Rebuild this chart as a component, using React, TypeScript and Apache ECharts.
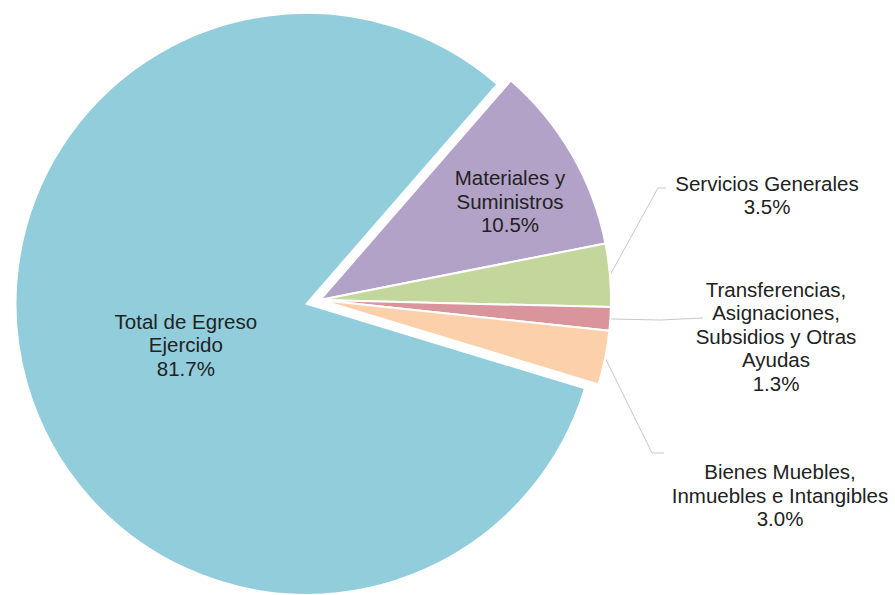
import React, { useEffect, useRef } from "react";
import * as echarts from "echarts";

// Data (clockwise order starting from the top edge of "Materiales y Suministros")
const categories = [
  "Materiales y\nSuministros",
  "Servicios Generales",
  "Transferencias,\nAsignaciones,\nSubsidios y Otras\nAyudas",
  "Bienes Muebles,\nInmuebles e Intangibles",
  "Total de Egreso\nEjercido",
];
const values = [10.5, 3.5, 1.3, 3.0, 81.7];
const colors = ["#B3A2C7", "#C3D69B", "#D9959B", "#FCD0AA", "#92CDDC"];
const selectedFlags = [false, false, false, false, true];

// Label layout (centre of each label block, and leader-line bend points)
const labelCenters: ([number, number] | null)[] = [
  [510, 201],
  [767, 195],
  [776, 336],
  [780, 495],
  null,
];
const labelBends: ([number, number][] | null)[] = [
  null,
  [[658, 188], [666, 188]],
  [[660, 320], [703, 318]],
  [[652, 453], [664, 453]],
  null,
];
// the exploded slice keeps its inner label; nudge it with padding
const totalLabelPadding = [0, 0, 14, 44];

export default function App() {
  const ref = useRef<HTMLDivElement>(null);
  useEffect(() => {
    if (!ref.current) return;
    const chart = echarts.init(ref.current, null, { renderer: "svg" });
    const data = categories.map((name, i) => ({
      name,
      value: values[i],
      selected: selectedFlags[i],
      itemStyle: { color: colors[i] },
      label: {
        position: i === 0 || i === 4 ? "inside" : "outside",
        ...(i === 4 ? { padding: totalLabelPadding } : {}),
      },
      labelLine: { show: i >= 1 && i <= 3 },
    }));
    chart.setOption({
      animation: false,
      backgroundColor: "#ffffff",
      series: [
        {
          type: "pie",
          center: [320, 300],
          radius: [0, 291],
          startAngle: 49,
          clockwise: true,
          selectedMode: "single",
          selectedOffset: 14,
          avoidLabelOverlap: false,
          itemStyle: { borderColor: "#ffffff", borderWidth: 2 },
          emphasis: { disabled: true },
          label: {
            show: true,
            color: "#222222",
            fontFamily: "Liberation Sans, Arial, sans-serif",
            fontSize: 20.5,
            lineHeight: 23.5,
            align: "center",
            formatter: (p: any) => `${p.name}\n${Number(p.value).toFixed(1)}%`,
          },
          labelLine: {
            show: true,
            lineStyle: { color: "#C8C8C8", width: 1 },
          },
          labelLayout: (params: any) => {
            const i = params.dataIndex;
            const c = labelCenters[i];
            if (!c) return {};
            const res: any = {
              x: c[0],
              y: c[1],
              align: "center",
              verticalAlign: "middle",
            };
            const bends = labelBends[i];
            if (bends && params.labelLinePoints) {
              res.labelLinePoints = [params.labelLinePoints[0], ...bends];
            }
            return res;
          },
          data,
        },
      ],
    });
    return () => chart.dispose();
  }, []);
  return (
    <div
      ref={ref}
      style={{ position: "fixed", left: 0, top: 0, width: 895, height: 595 }}
    />
  );
}
